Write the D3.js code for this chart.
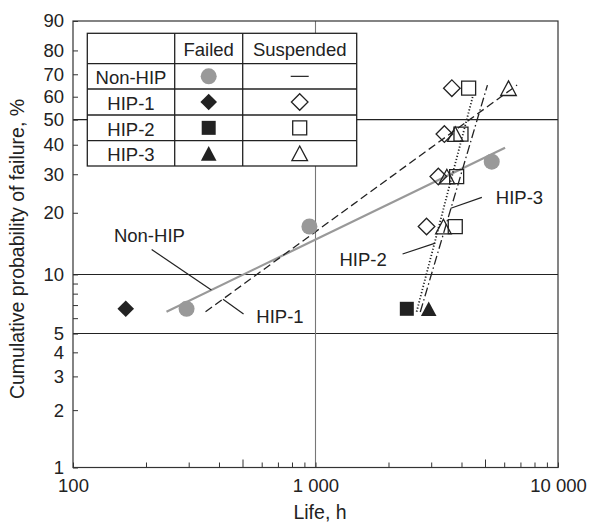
<!DOCTYPE html>
<html lang="en">
<head>
<meta charset="UTF-8">
<title>Weibull plot - cumulative probability of failure</title>
<style>
  html, body { margin: 0; padding: 0; background: #fff; }
  svg { display: block; font-family: "Liberation Sans", Arial, Helvetica, sans-serif; }
</style>
</head>
<body>
<div id="chart"></div>
<script src="https://d3js.org/d3.v7.min.js"></script>
<script>
// ---- data (life in h, probability in %) ----
const probTicks = [1, 2, 3, 4, 5, 10, 20, 30, 40, 50, 60, 70, 80, 90];
const probMinor = [6, 7, 8, 9];
const lifeTicks = [100, 1000, 10000];
const lifeMinor = [200, 300, 400, 500, 600, 700, 800, 900, 2000, 3000, 4000, 5000, 6000, 7000, 8000, 9000];
const probGrid = [5, 10, 50];
const lifeGrid = [1000];

const nonHipFailed = [[294, 6.7], [944, 17.2], [5330, 34]];
const hip1Failed = [[165, 6.7]];
const hip1Suspended = [[3650, 63.8], [3400, 44.1], [3210, 29.3], [2870, 17.2]];
const hip2Failed = [[2380, 6.7]];
const hip2Suspended = [[4280, 63.8], [3980, 44.1], [3820, 29.3], [3770, 17.2]];
const hip3Failed = [[2930, 6.7]];
const hip3Suspended = [[6250, 63.8], [3770, 44.1], [3480, 29.3], [3370, 17.2]];

const nonHipFit = [[243, 6.47], [6050, 38.9]];
const hip1Fit = [[352, 6.47], [6780, 65.2]];
const hip2Fit = [[2612, 6.47], [4467, 60.7]];
const hip3Fit = [[2704, 6.45], [5117, 65.2]];

// label text position [life, prob] and leader line [from, to]
const labels = [
  { text: "Non-HIP", at: [147.5, 15.5], leader: [[211, 13.3], [372, 8.35]] },
  { text: "HIP-1", at: [570, 6.1], leader: [[505, 6.3], [415.5, 7.49]] },
  { text: "HIP-2", at: [1256, 11.8], leader: [[2286, 12.64], [3118, 14.3]] },
  { text: "HIP-3", at: [5540, 23.6], leader: [[4853, 23.6], [3614, 21.0]] }
];

const legendRows = ["Non-HIP", "HIP-1", "HIP-2", "HIP-3"];
const legendShapes = ["circle", "diamond", "square", "triangle"];

// ---- layout ----
const width = 595, height = 524;
const plotLeft = 73, plotRight = 558, plotTop = 21, plotBottom = 467.5;
const fontSize = 18.5;

const weib = p => Math.log(-Math.log(1 - p / 100));
const x = d3.scaleLog().domain([100, 10000]).range([plotLeft, plotRight]);
const yw = d3.scaleLinear().domain([weib(1), weib(90)]).range([plotBottom, plotTop]);
const y = p => yw(weib(p));

const shapes = {
  circle: () => "M8,0A8,8 0 1,1 -8,0A8,8 0 1,1 8,0Z",
  diamond: () => "M0,-8.3L8.3,0L0,8.3L-8.3,0Z",
  square: () => "M-7,-7H7V7H-7Z",
  triangle: () => "M0,-7.3L7.8,7.3L-7.8,7.3Z"
};

const svg = d3.select("#chart").append("svg")
  .attr("width", width)
  .attr("height", height);

// grid lines
svg.append("g").selectAll("line")
  .data(probGrid)
  .enter().append("line")
  .attr("x1", plotLeft).attr("x2", plotRight)
  .attr("y1", d => y(d)).attr("y2", d => y(d))
  .attr("stroke", "#222").attr("stroke-width", 1.1);

svg.append("g").selectAll("line")
  .data(lifeGrid)
  .enter().append("line")
  .attr("x1", d => x(d)).attr("x2", d => x(d))
  .attr("y1", plotTop).attr("y2", plotBottom)
  .attr("stroke", "#777").attr("stroke-width", 1.1);

// axes
const fmt = d3.formatLocale({ decimal: ".", thousands: " ", grouping: [3], currency: ["", ""] }).format(",");

svg.append("g")
  .attr("transform", `translate(0,${plotBottom})`)
  .call(d3.axisBottom(x).tickValues(lifeTicks).tickSize(-5).tickPadding(11).tickFormat(fmt));

svg.append("g")
  .attr("transform", `translate(0,${plotBottom})`)
  .call(d3.axisBottom(x).tickValues(lifeMinor).tickFormat("").tickSize(-5))
  .selectAll(".tick line")
  .attr("y2", d => (d === 500 || d === 5000) ? -8 : -5);

svg.append("g")
  .attr("transform", `translate(${plotLeft},0)`)
  .call(d3.axisLeft(yw).tickValues(probTicks.map(weib)).tickSize(-5).tickPadding(9)
    .tickFormat((d, i) => probTicks[i]));

svg.append("g")
  .attr("transform", `translate(${plotLeft},0)`)
  .call(d3.axisLeft(yw).tickValues(probMinor.map(weib)).tickSize(-5).tickFormat(""));

svg.selectAll(".domain").remove();
svg.selectAll(".tick line").attr("stroke", "#333");
svg.selectAll(".tick text")
  .attr("fill", "#222")
  .style("font-size", "18.5px")
  .style("font-family", "'Liberation Sans', Arial, sans-serif");

// frame
svg.append("rect")
  .attr("x", plotLeft).attr("y", plotTop)
  .attr("width", plotRight - plotLeft).attr("height", plotBottom - plotTop)
  .attr("fill", "none").attr("stroke", "#333").attr("stroke-width", 1.2);

// fit lines
const line = d3.line().x(d => x(d[0])).y(d => y(d[1]));
const fits = [
  { data: nonHipFit, color: "#999", width: 2.2, dash: null },
  { data: hip1Fit, color: "#222", width: 1.3, dash: "8 4" },
  { data: hip2Fit, color: "#222", width: 1.8, dash: "1.2 2" },
  { data: hip3Fit, color: "#222", width: 1.3, dash: "9 3 1.5 3" }
];
svg.append("g").selectAll("path")
  .data(fits)
  .enter().append("path")
  .attr("d", d => line(d.data))
  .attr("fill", "none")
  .attr("stroke", d => d.color)
  .attr("stroke-width", d => d.width)
  .attr("stroke-dasharray", d => d.dash);

// markers
const markerSets = [
  { data: nonHipFailed, shape: "circle", filled: true, color: "#999" },
  { data: hip1Failed, shape: "diamond", filled: true, color: "#222" },
  { data: hip2Failed, shape: "square", filled: true, color: "#222" },
  { data: hip3Failed, shape: "triangle", filled: true, color: "#222" },
  { data: hip1Suspended, shape: "diamond", filled: false, color: "#222" },
  { data: hip2Suspended, shape: "square", filled: false, color: "#222" },
  { data: hip3Suspended, shape: "triangle", filled: false, color: "#222" }
];
markerSets.forEach(set => {
  svg.append("g").selectAll("path")
    .data(set.data)
    .enter().append("path")
    .attr("transform", d => `translate(${x(d[0])},${y(d[1])})`)
    .attr("d", shapes[set.shape]())
    .attr("fill", set.filled ? set.color : "none")
    .attr("stroke", set.filled ? "none" : set.color)
    .attr("stroke-width", 1.3);
});

// labels with leader lines
const lab = svg.append("g");
lab.selectAll("line")
  .data(labels)
  .enter().append("line")
  .attr("x1", d => x(d.leader[0][0])).attr("y1", d => y(d.leader[0][1]))
  .attr("x2", d => x(d.leader[1][0])).attr("y2", d => y(d.leader[1][1]))
  .attr("stroke", "#222").attr("stroke-width", 1.2);
lab.selectAll("text")
  .data(labels)
  .enter().append("text")
  .attr("x", d => x(d.at[0]))
  .attr("y", d => y(d.at[1]))
  .attr("dy", "0.35em")
  .attr("font-size", fontSize)
  .attr("fill", "#222")
  .text(d => d.text);

// legend table
const tbl = { cols: [87.3, 174.7, 242.7, 356.7], rows: [33.3, 63.7, 89, 115, 140.7, 166] };
const legend = svg.append("g");
legend.append("rect")
  .attr("x", tbl.cols[0]).attr("y", tbl.rows[0])
  .attr("width", tbl.cols[3] - tbl.cols[0]).attr("height", tbl.rows[5] - tbl.rows[0])
  .attr("fill", "#fff").attr("stroke", "#222").attr("stroke-width", 1.3);
legend.selectAll("line.h")
  .data(tbl.rows.slice(1, 5))
  .enter().append("line")
  .attr("class", "h")
  .attr("x1", tbl.cols[0]).attr("x2", tbl.cols[3])
  .attr("y1", d => d).attr("y2", d => d)
  .attr("stroke", "#222").attr("stroke-width", 1.3);
legend.selectAll("line.v")
  .data(tbl.cols.slice(1, 3))
  .enter().append("line")
  .attr("class", "v")
  .attr("x1", d => d).attr("x2", d => d)
  .attr("y1", tbl.rows[0]).attr("y2", tbl.rows[5])
  .attr("stroke", "#222").attr("stroke-width", 1.3);

const colMid = i => (tbl.cols[i] + tbl.cols[i + 1]) / 2;
const rowMid = i => (tbl.rows[i] + tbl.rows[i + 1]) / 2;

legend.selectAll("text.head")
  .data(["Failed", "Suspended"])
  .enter().append("text")
  .attr("class", "head")
  .attr("x", (d, i) => colMid(i + 1))
  .attr("y", rowMid(0) + 1.5)
  .attr("dy", "0.35em")
  .attr("text-anchor", "middle")
  .attr("font-size", fontSize)
  .attr("fill", "#222")
  .text(d => d);

legend.selectAll("text.row")
  .data(legendRows)
  .enter().append("text")
  .attr("class", "row")
  .attr("x", colMid(0))
  .attr("y", (d, i) => rowMid(i + 1) + 1.5)
  .attr("dy", "0.35em")
  .attr("text-anchor", "middle")
  .attr("font-size", fontSize)
  .attr("fill", "#222")
  .text(d => d);

legend.selectAll("path.failed")
  .data(legendShapes)
  .enter().append("path")
  .attr("class", "failed")
  .attr("transform", (d, i) => `translate(${colMid(1)},${rowMid(i + 1)})`)
  .attr("d", d => shapes[d]())
  .attr("fill", (d, i) => i === 0 ? "#999" : "#222");

legend.selectAll("path.susp")
  .data(legendShapes.slice(1))
  .enter().append("path")
  .attr("class", "susp")
  .attr("transform", (d, i) => `translate(${colMid(2)},${rowMid(i + 2)})`)
  .attr("d", d => shapes[d]())
  .attr("fill", "none")
  .attr("stroke", "#222")
  .attr("stroke-width", 1.3);

legend.append("line")
  .attr("x1", colMid(2) - 9).attr("x2", colMid(2) + 9)
  .attr("y1", rowMid(1)).attr("y2", rowMid(1))
  .attr("stroke", "#222").attr("stroke-width", 1.2);

// axis titles
svg.append("text")
  .attr("x", 320).attr("y", 519)
  .attr("text-anchor", "middle")
  .attr("font-size", 19.5)
  .attr("fill", "#222")
  .text("Life, h");

svg.append("text")
  .attr("transform", "translate(17.5,249) rotate(-90)")
  .attr("dy", "0.35em")
  .attr("text-anchor", "middle")
  .attr("font-size", 19.5)
  .attr("fill", "#222")
  .text("Cumulative probability of failure, %");
</script>
</body>
</html>
